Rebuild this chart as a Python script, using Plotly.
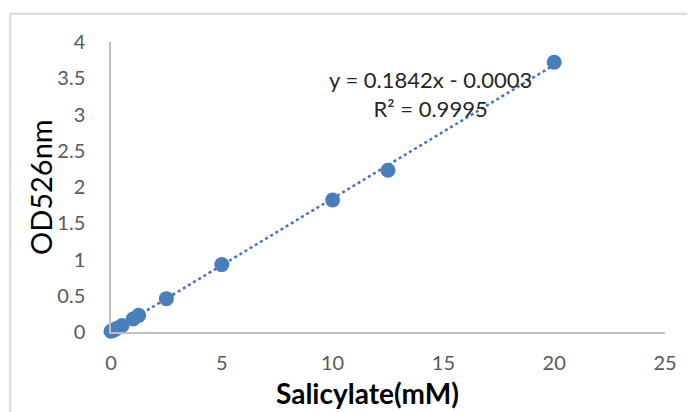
import plotly.graph_objects as go

# Data
salicylate_mM = [0, 0.125, 0.25, 0.5, 1, 1.25, 2.5, 5, 10, 12.5, 20]
od526 = [0.01, 0.025, 0.05, 0.09, 0.18, 0.23, 0.46, 0.93, 1.82, 2.23, 3.72]
slope = 0.1842
intercept = -0.0003
trend_x = [0, 20]
trend_y = [slope * v + intercept for v in trend_x]
x_ticks = [0, 5, 10, 15, 20, 25]
y_ticks = [0, 0.5, 1, 1.5, 2, 2.5, 3, 3.5, 4]
y_tick_text = ["0", "0.5", "1", "1.5", "2", "2.5", "3", "3.5", "4"]

blue = "#4a7ebb"
font_family = "Lato, 'Open Sans', sans-serif"

fig = go.Figure()
fig.add_trace(go.Scatter(
    x=trend_x, y=trend_y, mode="lines",
    line=dict(color="#4472c4", width=2.5, dash="dot"),
    hoverinfo="skip", showlegend=False, cliponaxis=False,
))
fig.add_trace(go.Scatter(
    x=salicylate_mM, y=od526, mode="markers",
    marker=dict(color=blue, size=15),
    showlegend=False, cliponaxis=False,
))

fig.add_annotation(
    x=14.4, y=3.28, xref="x", yref="y",
    text="y = 0.1842x - 0.0003<br>R² = 0.9995",
    showarrow=False, align="center",
    font=dict(family=font_family, size=22, color="#262626"),
)

# axis titles
fig.add_annotation(
    x=0.463, y=-0.212, xref="paper", yref="paper", yanchor="middle",
    text="<b>Salicylate(mM)</b>", showarrow=False,
    font=dict(size=28, color="#000000", family=font_family),
)
fig.add_annotation(
    x=-0.128, y=0.50, xref="paper", yref="paper", xanchor="center",
    text="OD526nm", showarrow=False, textangle=-90,
    font=dict(size=29, color="#000000", family=font_family),
)

# outer chart border (extends beyond the window, as in the reference)
fig.add_shape(type="rect", xref="paper", yref="paper",
              x0=-0.182, x1=1.2, y0=-0.4, y1=1.097,
              line=dict(color="#d9d9d9", width=2), layer="below")

# page body has an 8px margin, so the figure is sized to fit the window
fig.update_layout(
    width=687, height=404,
    margin=dict(l=103, r=30, t=34, b=80),
    paper_bgcolor="white", plot_bgcolor="white",
    font=dict(family=font_family, color="#595959"),
    xaxis=dict(
        range=[0, 25], tickvals=x_ticks, showgrid=False, zeroline=False,
        showline=True, linecolor="#bfbfbf", linewidth=1.5,
        ticks="", tickfont=dict(size=20, color="#595959"),
        ticklabelstandoff=12, automargin=False,
    ),
    yaxis=dict(
        range=[0, 4], tickvals=y_ticks, ticktext=y_tick_text,
        showgrid=False, zeroline=False,
        showline=True, linecolor="#bfbfbf", linewidth=1.5,
        ticks="", tickfont=dict(size=20, color="#595959"),
        ticklabelstandoff=20, automargin=False,
    ),
)

fig.write_html("out.html")
